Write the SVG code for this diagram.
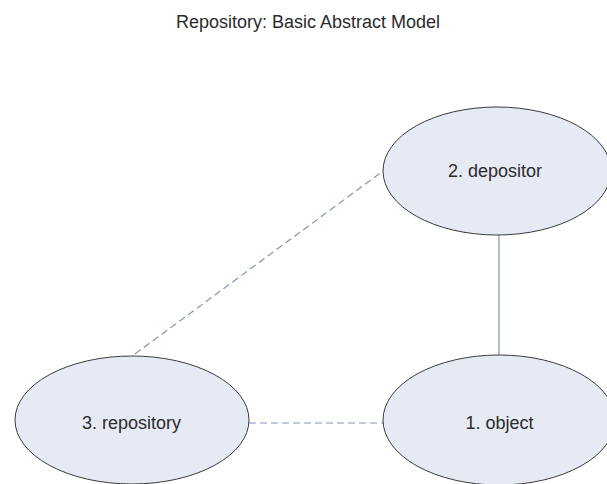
<svg xmlns="http://www.w3.org/2000/svg" width="607" height="484" viewBox="0 0 607 484">
  <style>
    .node ellipse { fill: #e6eaf5; stroke: #3a3a3a; stroke-width: 1; }
    .node text, .title { font-family: "Liberation Sans", Arial, sans-serif; font-size: 18px; fill: #2b2b2b; text-anchor: middle; }
    .link { stroke: #8593b6; stroke-width: 1.2; fill: none; }
    .dashed { stroke-dasharray: 7 4; }
  </style>
  <rect width="607" height="484" fill="#ffffff"/>
  <text class="title" x="308" y="28">Repository: Basic Abstract Model</text>

  <g id="connectors">
    <line class="link dashed" x1="135" y1="354" x2="383" y2="171"/>
    <line class="link dashed" x1="249" y1="423" x2="383" y2="423"/>
    <line class="link" x1="499" y1="235" x2="499" y2="355"/>
  </g>

  <g id="depositor" class="node">
    <ellipse cx="497" cy="171" rx="114" ry="64"/>
    <text x="495" y="177">2. depositor</text>
  </g>
  <g id="object" class="node">
    <ellipse cx="499" cy="420" rx="116" ry="65"/>
    <text x="499.5" y="429">1. object</text>
  </g>
  <g id="repository" class="node">
    <ellipse cx="132" cy="420" rx="117" ry="64"/>
    <text x="131.5" y="429">3. repository</text>
  </g>
</svg>
